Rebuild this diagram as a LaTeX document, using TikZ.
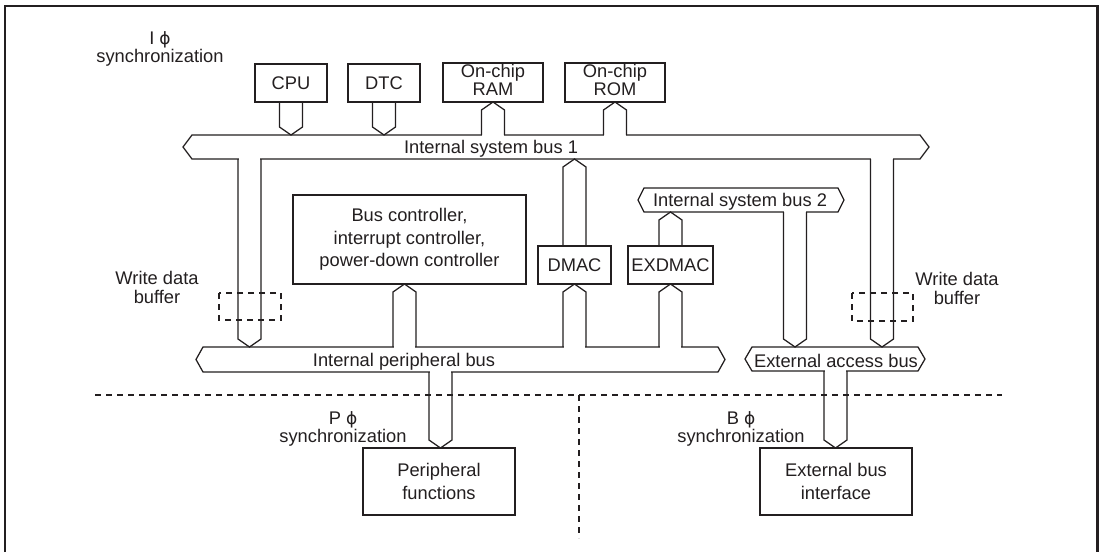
\documentclass[tikz,border=0pt]{standalone}
\usepackage{fontspec}
\setmainfont{Liberation Sans}
\newfontfamily\dejavu{DejaVu Sans}
\usetikzlibrary{calc}
\definecolor{ink}{HTML}{231F20}
\newcommand\fsA{\fontsize{18.3pt}{18pt}\selectfont}
\newcommand\fsB{\fontsize{18.3pt}{22.3pt}\selectfont}
\newcommand\fsC{\fontsize{18.3pt}{19pt}\selectfont}
\newcommand\fsD{\fontsize{18.3pt}{23pt}\selectfont}
\newcommand\phiG{{\dejavu\fontsize{17pt}{18pt}\selectfont ϕ}}
% bus outline with pointed ends: #1 node name, #2 point depth
\newcommand\busoutline[2]{%
  \draw[busline] (#1.west) -- ($(#1.north west)+(#2,0)$) -- ($(#1.north east)+(-#2,0)$)
    -- (#1.east) -- ($(#1.south east)+(-#2,0)$) -- ($(#1.south west)+(#2,0)$) -- cycle;}
% pipe connector: #1 start, #2 tip, #3 = 1 tip below start / -1 tip above, #4 = 1 open into a bus
\newcommand\pipe[4]{%
  \ifnum#4>0
    \fill[white] ($#1+(-10.8,{-(#3)*1.3})$) rectangle ($#2+(10.8,{-(#3)*8})$);
  \fi
  \draw[busline] ($#1+(-11.5,0)$) -- ($#2+(-11.5,{-(#3)*8})$) -- #2
    -- ($#2+(11.5,{-(#3)*8})$) -- ($#1+(11.5,0)$);}
\begin{document}
\begin{tikzpicture}[x=1pt,y=-1pt,
  box/.style={draw=ink, line width=2.7pt, inner sep=0pt, outer sep=0pt, align=center, text=ink, font=\fsA},
  busbody/.style={draw=none, inner sep=0pt, outer sep=0pt},
  busline/.style={draw=ink, line width=1.25pt, line join=miter},
  lbl/.style={text=ink, font=\fsA, align=center, inner sep=0pt},
  dashbox/.style={draw=ink, line width=1.1pt, dash pattern=on 6pt off 5pt},
  frameline/.style={draw=ink, line width=2.3pt}]
\useasboundingbox (0,0) rectangle (1103,552);
\fill[white] (0,0) rectangle (1103,552);

% buses
\node[busbody, minimum width=746pt, minimum height=24pt] (bus1) at (556,147) {};
\node[busbody, minimum width=206pt, minimum height=24pt] (bus2) at (741,200) {};
\node[busbody, minimum width=529pt, minimum height=25pt] (pbus) at (460.5,359.5) {};
\node[busbody, minimum width=180pt, minimum height=24pt] (eabus) at (835,359) {};
\busoutline{bus1}{9}
\busoutline{bus2}{6}
\busoutline{pbus}{7}
\busoutline{eabus}{7}

% boxes
\node[box, minimum width=72pt, minimum height=38pt] (cpu) at (291,83) {CPU};
\node[box, minimum width=72pt, minimum height=38pt] (dtc) at (384,83) {DTC};
\node[box, minimum width=100pt, minimum height=39pt, text depth=6pt] (ram) at (493,82.5) {On-chip\\RAM};
\node[box, minimum width=100pt, minimum height=39pt, text depth=6pt] (rom) at (615,82.5) {On-chip\\ROM};
\node[box, font=\fsB, minimum width=233pt, minimum height=89pt] (busctl) at (409.5,239.5)
  {Bus controller,\\interrupt controller,\\power-down controller};
\node[box, minimum width=73pt, minimum height=38pt] (dmac) at (574.5,265) {DMAC};
\node[box, minimum width=85pt, minimum height=38pt] (exdmac) at (670.5,265) {EXDMAC};
\node[box, font=\fsD, minimum width=152pt, minimum height=67pt] (perf) at (439,481.5) {Peripheral\\functions};
\node[box, font=\fsD, minimum width=152pt, minimum height=67pt] (ebi) at (836,481.5) {External bus\\interface};

% x positions of pipes not centred on a box
\coordinate (xl) at (249.5,0);
\coordinate (xr) at (882,0);
\coordinate (x2) at (795,0);
\coordinate (xbc) at (404.5,0);
\coordinate (xpf) at (440.5,0);
\coordinate (xeb) at (835.5,0);

% pipes
\pipe{(cpu.south)}{(cpu.south |- bus1.north)}{1}{0}
\pipe{(dtc.south)}{(dtc.south |- bus1.north)}{1}{0}
\pipe{(ram.south |- bus1.north)}{(ram.south)}{-1}{1}
\pipe{(rom.south |- bus1.north)}{(rom.south)}{-1}{1}
\pipe{(dmac.north)}{(dmac.north |- bus1.south)}{-1}{0}
\pipe{(exdmac.north)}{(exdmac.north |- bus2.south)}{-1}{0}
\pipe{(xl |- bus1.south)}{(xl |- pbus.north)}{1}{1}
\pipe{(xr |- bus1.south)}{(xr |- eabus.north)}{1}{1}
\pipe{(x2 |- bus2.south)}{(x2 |- eabus.north)}{1}{1}
\pipe{(xbc |- pbus.north)}{(xbc |- busctl.south)}{-1}{1}
\pipe{(dmac.south |- pbus.north)}{(dmac.south)}{-1}{1}
\pipe{(exdmac.south |- pbus.north)}{(exdmac.south)}{-1}{1}
\pipe{(xpf |- pbus.south)}{(xpf |- perf.north)}{1}{1}
\pipe{(xeb |- eabus.south)}{(xeb |- ebi.north)}{1}{1}

% bus labels
\node[lbl, anchor=base] (bus1lbl) at (491,153.5) {Internal system bus 1};
\node[lbl, anchor=base] (bus2lbl) at (740,206.5) {Internal system bus 2};
\node[lbl, anchor=base] (pbuslbl) at (404,366.5) {Internal peripheral bus};
\node[lbl, anchor=base] (eabuslbl) at (836,367) {External access bus};

% other labels
\node[lbl] (isync) at (160,49) {I \phiG\\synchronization};
\node[lbl] (psync) at (343,429) {P \phiG\\synchronization};
\node[lbl] (bsync) at (741,429) {B \phiG\\synchronization};
\node[lbl, font=\fsC] (wdbl) at (157,287.5) {Write data\\buffer};
\node[lbl, font=\fsC] (wdbr) at (957,288.5) {Write data\\buffer};

% write data buffers
\draw[dashbox] (219,293) rectangle (281,320);
\draw[dashbox] (852,293) rectangle (913,321);

% clock domain boundaries
\draw[dashbox] (95,395) -- (1002,395);
\draw[dashbox] (579,395) -- (579,538);

% frame
\draw[frameline] (5,552) -- (5,6) -- (1097.5,6) -- (1097.5,552);
\end{tikzpicture}
\end{document}
